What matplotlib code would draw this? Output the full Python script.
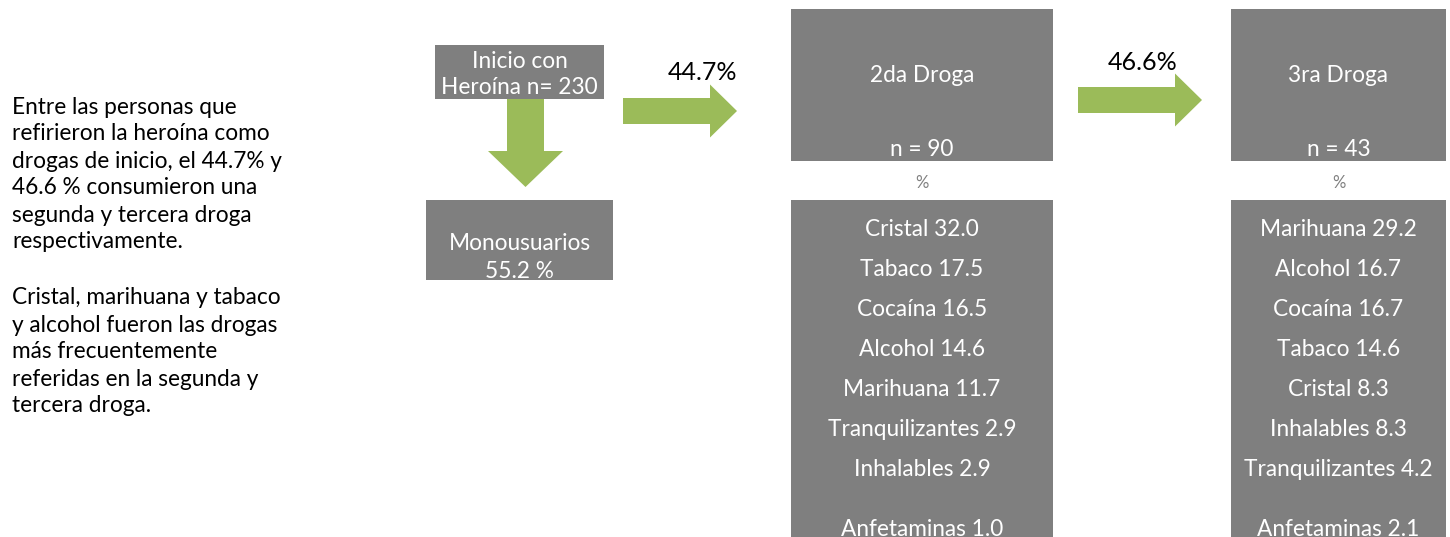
import matplotlib
matplotlib.use("Agg")
import matplotlib.pyplot as plt
from matplotlib.patches import Rectangle, Polygon

# ---- data ----
start_label = "Inicio con\nHeroína n= 230"
mono_label = "Monousuarios\n55.2 %"
step_pcts = ["44.7%", "46.6%"]
n_second = 90
n_third = 43
second_drugs = ["Cristal", "Tabaco", "Cocaína", "Alcohol", "Marihuana",
                "Tranquilizantes", "Inhalables", "Anfetaminas"]
second_vals = [32.0, 17.5, 16.5, 14.6, 11.7, 2.9, 2.9, 1.0]
third_drugs = ["Marihuana", "Alcohol", "Cocaína", "Tabaco", "Cristal",
               "Inhalables", "Tranquilizantes", "Anfetaminas"]
third_vals = [29.2, 16.7, 16.7, 14.6, 8.3, 8.3, 4.2, 2.1]
para1 = ["Entre las personas que", "refirieron la heroína como",
         "drogas de inicio, el 44.7% y", "46.6 % consumieron una",
         "segunda y tercera droga", "respectivamente."]
para2 = ["Cristal, marihuana y tabaco", "y alcohol fueron las drogas",
         "más frecuentemente", "referidas en la segunda y", "tercera droga."]

plt.rcParams['font.family'] = ['Lato', 'DejaVu Sans']
GRAY = "#7f7f7f"
GREEN = "#9bbb59"

fig = plt.figure(figsize=(14.5, 5.37), dpi=100)
ax = fig.add_axes([0, 0, 1, 1])
ax.set_xlim(0, 1450)
ax.set_ylim(537, 0)
ax.axis("off")

FS = 16.3
DY = 2

def box(x0, y0, x1, y1):
    ax.add_patch(Rectangle((x0, y0), x1 - x0, y1 - y0, color=GRAY, lw=0))

def txt(x, y, s, **kw):
    kw.setdefault("fontsize", FS)
    kw.setdefault("color", "white")
    kw.setdefault("ha", "center")
    ax.text(x, y + DY, s, va="center", **kw)

def rarrow(x0, x1, ymid, shaft_h, head_h, head_w):
    pts = [(x0, ymid - shaft_h / 2), (x1 - head_w, ymid - shaft_h / 2),
           (x1 - head_w, ymid - head_h / 2), (x1, ymid),
           (x1 - head_w, ymid + head_h / 2), (x1 - head_w, ymid + shaft_h / 2),
           (x0, ymid + shaft_h / 2)]
    ax.add_patch(Polygon(pts, closed=True, color=GREEN, lw=0))

def darrow(xmid, y0, y1, shaft_w, head_w, head_h):
    pts = [(xmid - shaft_w / 2, y0), (xmid + shaft_w / 2, y0),
           (xmid + shaft_w / 2, y1 - head_h), (xmid + head_w / 2, y1 - head_h),
           (xmid, y1), (xmid - head_w / 2, y1 - head_h),
           (xmid - shaft_w / 2, y1 - head_h)]
    ax.add_patch(Polygon(pts, closed=True, color=GREEN, lw=0))

# left paragraph
y = 105
for line in para1:
    txt(12, y, line, color="black", ha="left")
    y += 27
y = 296
for line in para2:
    txt(12, y, line, color="black", ha="left")
    y += 27

# start box
box(435, 45, 604, 99)
txt(519.5, 59, start_label.split("\n")[0])
txt(519.5, 86, start_label.split("\n")[1])

# down arrow + mono box
darrow(525.5, 99, 187, 37, 75, 36)
box(426, 200, 613, 280)
txt(519.5, 241, mono_label.split("\n")[0])
txt(519.5, 269, mono_label.split("\n")[1])

# arrows right
rarrow(623, 737, 111, 26, 53, 27)
txt(702, 71, step_pcts[0], color="black", fontsize=18)
rarrow(1078, 1202, 100, 26, 53, 27)
txt(1143, 61, step_pcts[1], color="black", fontsize=18)

def column(x0, x1, title, n, drugs, vals):
    cx = (x0 + x1) / 2
    box(x0, 9, x1, 161)
    txt(cx, 73, title)
    txt(cx, 148, f"n = {n}")
    txt(cx, 181, "%", fontsize=12, color=GRAY)
    box(x0, 200, x1, 545)
    for i, (d, v) in enumerate(zip(drugs, vals)):
        yy = 228 + 40 * i if i < 7 else 528
        txt(cx, yy, f"{d} {v:.1f}")

column(791, 1053, "2da Droga", n_second, second_drugs, second_vals)
column(1231, 1446, "3ra Droga", n_third, third_drugs, third_vals)

fig.savefig("out.png", dpi=100)
